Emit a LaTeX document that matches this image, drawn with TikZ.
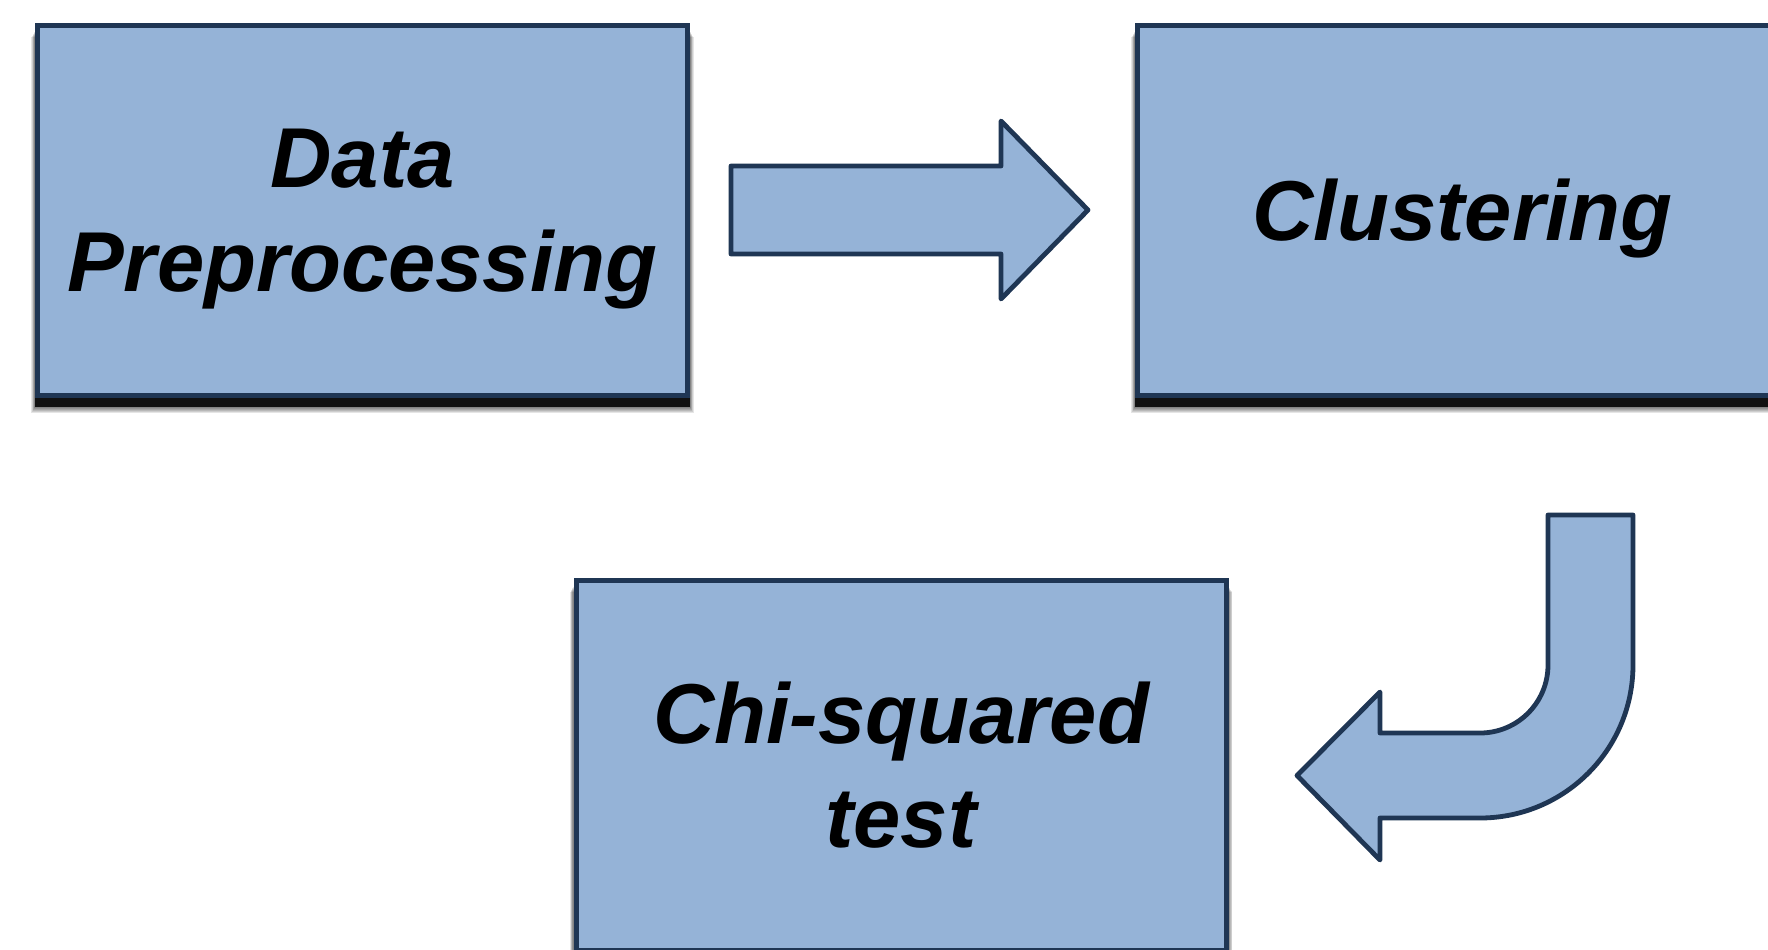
\documentclass[tikz,border=0pt]{standalone}
\usepackage{fontspec}
\setmainfont{Liberation Sans}
\usetikzlibrary{calc,backgrounds}
\definecolor{boxfill}{HTML}{95B3D7}
\definecolor{boxline}{RGB}{31,54,84}
\tikzset{
  stagebox/.style={draw=boxline, fill=boxfill, line width=2.5pt,
    minimum width=325pt, minimum height=185pt, inner sep=0pt,
    align=center, text=black, text depth=0pt,
    font=\fontsize{42.5}{52}\selectfont\bfseries\itshape},
  blockarrow/.style={draw=boxline, fill=boxfill, line width=2.4pt, line join=round},
  shadowlayer/.style={fill=black, opacity=#1}
}
% soft shadow below a box: a dark core plus widening translucent rims
\newcommand{\boxshadow}[1]{%
  \fill[shadowlayer=0.85] ($(#1.north west)+(0,8)$) rectangle ($(#1.south east)+(0,9)$);
  \foreach \r in {1,2,3,4,5,6}{%
    \fill[shadowlayer=0.1] ($(#1.north west)+(-0.6*\r,8+\r)$) rectangle ($(#1.south east)+(0.6*\r,9+\r)$);
  }%
}
\begin{document}
\begin{tikzpicture}[x=0.5pt, y=-0.5pt]
  \useasboundingbox (0,0) rectangle (1768,949);

  % process stages
  \node[stagebox] (prep) at (362.5,210) {Data\\Preprocessing};
  \node[stagebox] (clus) at (1462.5,210) {Clustering};
  \node[stagebox] (chi)  at (901,765) {Chi-squared\\test};

  \begin{scope}[on background layer]
    \fill[white] (0,0) rectangle (1768,949);
    \boxshadow{prep}
    \boxshadow{clus}
    \boxshadow{chi}
  \end{scope}

  % straight block arrow: preprocessing -> clustering
  \draw[blockarrow] (731,166) -- (1001,166) -- (1001,121) -- (1088,210)
    -- (1001,299) -- (1001,254) -- (731,254) -- cycle;

  % bent block arrow: clustering -> chi-squared test
  \draw[blockarrow] (1548,515) -- (1633,515) -- (1633,665)
    .. controls (1633,749.5) and (1564.5,818) .. (1480,818)
    -- (1380,818) -- (1380,860) -- (1297,775.5) -- (1380,692) -- (1380,733)
    -- (1480,733)
    .. controls (1517.6,733) and (1548,702.6) .. (1548,665)
    -- cycle;
\end{tikzpicture}
\end{document}
